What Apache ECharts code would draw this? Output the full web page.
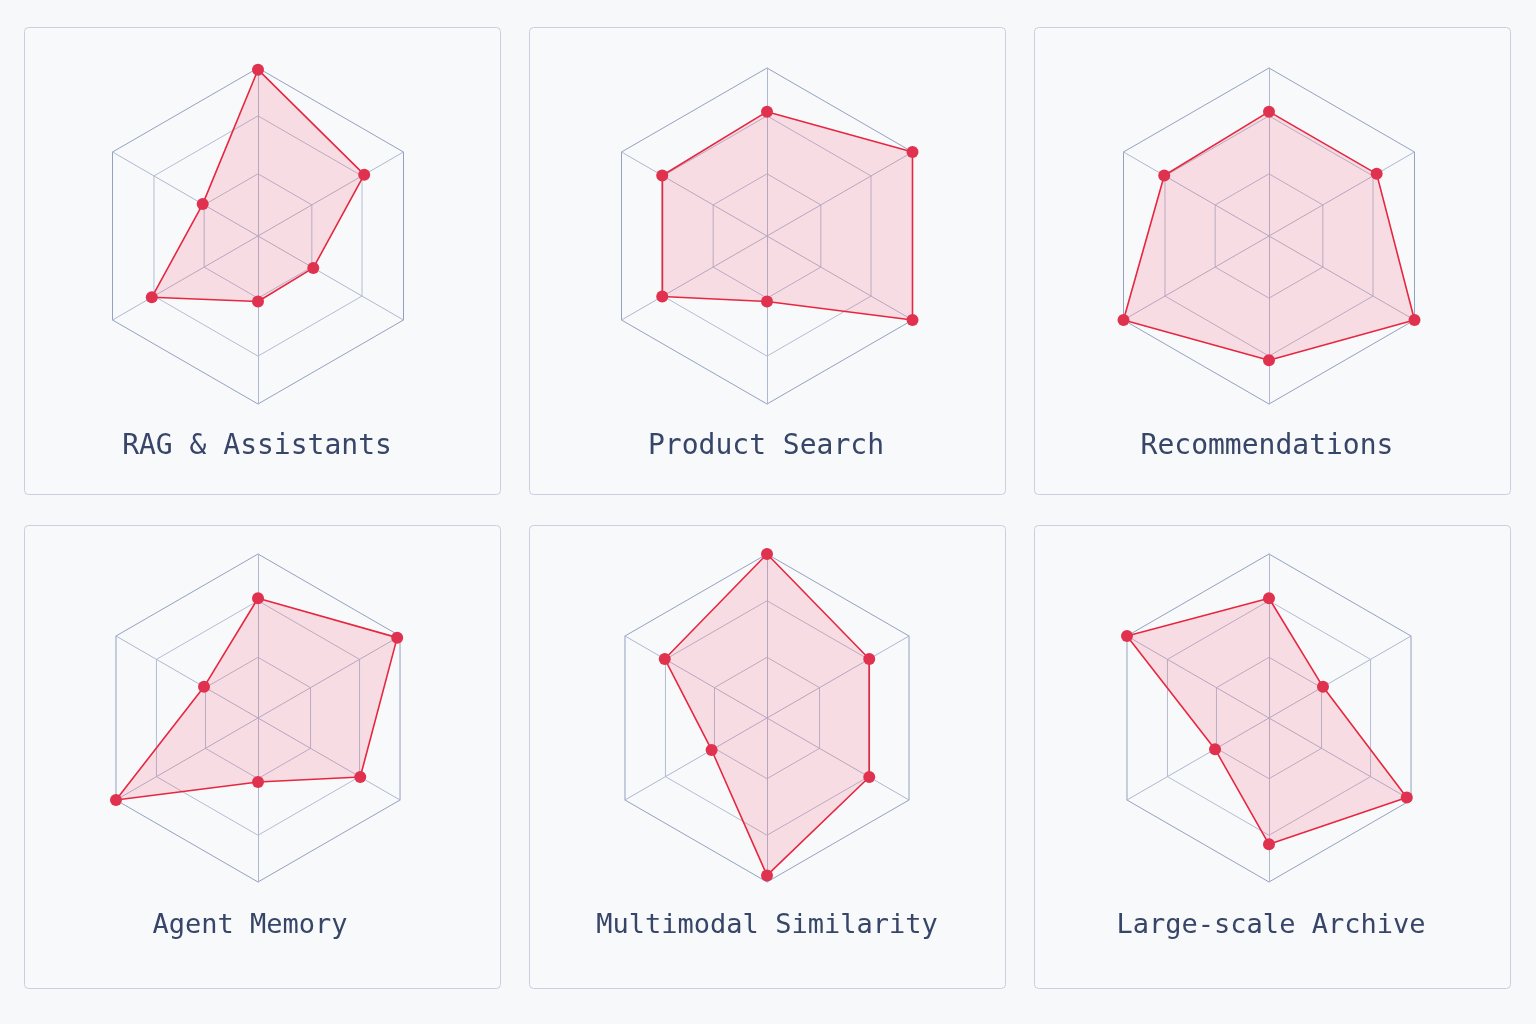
<!DOCTYPE html>
<html>
<head>
<meta charset="utf-8">
<script src="https://cdn.jsdelivr.net/npm/echarts@6/dist/echarts.min.js"></script>
<style>
  html, body { margin: 0; padding: 0; background: #f7f8fa; }
  #chart { width: 1536px; height: 1024px; }
</style>
</head>
<body>
<div id="chart"></div>
<script>
// ---- Data ----
const panelTitles = ['RAG & Assistants', 'Product Search', 'Recommendations',
                     'Agent Memory', 'Multimodal Similarity', 'Large-scale Archive'];
// Axis order (ECharts default, counter-clockwise from top):
// top, upper-left, lower-left, bottom, lower-right, upper-right
const axisNames = ['Axis 1', 'Axis 2', 'Axis 3', 'Axis 4', 'Axis 5', 'Axis 6'];
const ragValues            = [99, 38, 73, 39, 38, 73];
const productSearchValues  = [74, 72, 72, 39, 100, 100];
const recommendValues      = [74, 72, 100, 74, 100, 74];
const agentMemoryValues    = [73, 38, 100, 39, 72, 98];
const multimodalValues     = [100, 72, 39, 96, 72, 72];
const archiveValues        = [73, 100, 38, 77, 97, 38];
const seriesValues = [ragValues, productSearchValues, recommendValues,
                      agentMemoryValues, multimodalValues, archiveValues];
const ringLevels = [37, 71.5, 100];   // grid ring positions on the 0-100 scale
const axisMax = 100;

// ---- Layout (styles / positions) ----
const panels = [
  { x: 24.5,   y: 27.5,  w: 476, h: 467, cx: 258, cy: 236, r: 168, tx: 257,  ty: 447, fs: 28 },
  { x: 529.5,  y: 27.5,  w: 476, h: 467, cx: 767, cy: 236, r: 168, tx: 766,  ty: 447, fs: 28 },
  { x: 1034.5, y: 27.5,  w: 476, h: 467, cx: 1269, cy: 236, r: 168, tx: 1267, ty: 447, fs: 28 },
  { x: 24.5,   y: 525.5, w: 476, h: 463, cx: 258, cy: 718, r: 164, tx: 250,  ty: 926, fs: 27 },
  { x: 529.5,  y: 525.5, w: 476, h: 463, cx: 767, cy: 718, r: 164, tx: 767,  ty: 926, fs: 27 },
  { x: 1034.5, y: 525.5, w: 476, h: 463, cx: 1269, cy: 718, r: 164, tx: 1271, ty: 926, fs: 27 }
];

const chart = echarts.init(document.getElementById('chart'), null, { renderer: 'canvas' });

const radars = [];
const series = [];
const graphics = [];

panels.forEach(function (p, i) {
  const indicator = axisNames.map(function (n) { return { name: n, min: 0, max: axisMax }; });
  const outerIndex = radars.length;
  // one radar component per ring, so that the ring spacing follows ringLevels
  ringLevels.slice().reverse().forEach(function (lvl, k) {
    const isOuter = (k === 0);
    radars.push({
      center: [p.cx, p.cy],
      radius: p.r * lvl / axisMax,
      startAngle: 90,
      shape: 'polygon',
      splitNumber: 1,
      indicator: indicator,
      axisName: { show: false },
      axisLine: { show: isOuter, lineStyle: { color: '#aeb8d0', width: 1 } },
      splitLine: { show: true, lineStyle: { color: isOuter ? '#93a1c2' : '#b4bdd4', width: 1 } },
      splitArea: { show: false },
      axisTick: { show: false },
      axisLabel: { show: false },
      silent: true
    });
  });
  series.push({
    type: 'radar',
    radarIndex: outerIndex,
    symbol: 'circle',
    symbolSize: 12,
    z: 5,
    itemStyle: { color: '#e0324f' },
    lineStyle: { color: '#e6263f', width: 1.6 },
    areaStyle: { color: 'rgba(240, 60, 88, 0.2)' },
    data: [{ value: seriesValues[i], name: panelTitles[i] }]
  });
  graphics.push({
    type: 'rect',
    z: -10,
    shape: { x: p.x, y: p.y, width: p.w, height: p.h, r: 4 },
    style: { fill: '#f8f9fb', stroke: '#c8cfe0', lineWidth: 1 },
    silent: true
  });
  graphics.push({
    type: 'text',
    z: 10,
    x: p.tx,
    y: p.ty,
    style: {
      text: panelTitles[i],
      font: p.fs + 'px "DejaVu Sans Mono", "Liberation Mono", monospace',
      fill: '#374568',
      textAlign: 'center',
      textVerticalAlign: 'middle'
    },
    silent: true
  });
});

chart.setOption({
  backgroundColor: '#f7f8fa',
  animation: false,
  radar: radars,
  series: series,
  graphic: { elements: graphics }
});
</script>
</body>
</html>
